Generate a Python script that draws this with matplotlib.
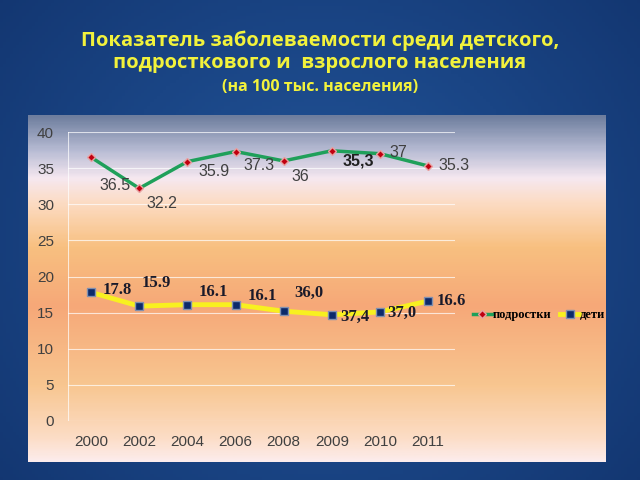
import numpy as np
import matplotlib.pyplot as plt
from matplotlib.colors import LinearSegmentedColormap

years = ["2000", "2002", "2004", "2006", "2008", "2009", "2010", "2011"]
teens = [36.5, 32.2, 35.9, 37.3, 36.0, 37.4, 37.0, 35.3]
kids = [17.8, 15.9, 16.1, 16.1, 15.2, 14.7, 15.1, 16.6]
teen_labels = ["36.5", "32.2", "35.9", "37.3", "36", "35,3", "37", "35.3"]
kid_labels = ["17.8", "15.9", "16.1", "16.1", "36,0", "37,4", "37,0", "16.6"]
yticks = [0, 5, 10, 15, 20, 25, 30, 35, 40]

fig = plt.figure(figsize=(6.4, 4.8), dpi=100)

# slide background
bg = fig.add_axes([0, 0, 1, 1])
bg.axis("off")
xx, yy = np.meshgrid(np.linspace(-1, 1, 200), np.linspace(-1, 1, 150))
r = np.sqrt(xx ** 2 + (yy * 0.8) ** 2)
slide_cmap = LinearSegmentedColormap.from_list("slide", ["#23569a", "#1a4585", "#12346e"])
bg.imshow(r, cmap=slide_cmap, aspect="auto", extent=[0, 1, 0, 1], vmin=0, vmax=1.4)
bg.set_xlim(0, 1)
bg.set_ylim(0, 1)

# panel gradient
panel = fig.add_axes([28 / 640, 18 / 480, 578 / 640, 347 / 480])
panel.axis("off")
stops = [(0.0, "#6e7e9e"), (0.10, "#b8bcd4"), (0.18, "#f6e8f0"), (0.25, "#fcdcc4"),
         (0.38, "#f8c080"), (0.55, "#f6a878"), (0.78, "#f8c690"), (0.93, "#fcdcc4"),
         (1.0, "#fcecec")]
panel_cmap = LinearSegmentedColormap.from_list("panel", stops)
panel.imshow(np.linspace(0, 1, 300).reshape(-1, 1), cmap=panel_cmap, aspect="auto",
             extent=[0, 1, 0, 1])

fig.text(0.5, 0.915, "Показатель заболеваемости среди детского,", ha="center",
         va="center", color="#f2f23c", fontsize=14.5, fontweight="bold", family="Open Sans")
fig.text(0.5, 0.868, "подросткового и  взрослого населения", ha="center",
         va="center", color="#f2f23c", fontsize=14.5, fontweight="bold", family="Open Sans")
fig.text(0.5, 0.818, "(на 100 тыс. населения)", ha="center", va="center",
         color="#f2f23c", fontsize=11.5, fontweight="bold", family="Open Sans")

ax = fig.add_axes([68 / 640, 59 / 480, 387 / 640, 289 / 480])
ax.patch.set_alpha(0)
x = np.arange(len(years))

ax.plot(x, teens, color="#1fa05a", lw=2.5, marker="D", ms=4,
        mfc="#c00010", mec="#e8a0a0", label="подростки", zorder=3)
ax.plot(x, kids, color="#f8f020", lw=3.5, marker="s", ms=5.5,
        mfc="#0c2a6a", mec="#8090b0", label="дети", zorder=3)

teen_off = [(17, -20), (16, -11), (19, -7), (17, -10), (12, -11), (19, -7), (13, 1), (19, 0)]
for i, (v, lab) in enumerate(zip(teens, teen_labels)):
    dx, dy = teen_off[i]
    bold = lab == "35,3"
    ax.annotate(lab, (x[i], v), xytext=(dx, dy), textcoords="offset points",
                ha="center", va="center", fontsize=11.5,
                color="#202020" if bold else "#404040",
                fontweight="bold" if bold else "normal", family="Liberation Sans")

kid_off = [(8, 2), (2, 17), (8, 9), (9, 6), (8, 13), (6, -1.5), (5, -1), (6, 0)]
for i, (v, lab) in enumerate(zip(kids, kid_labels)):
    dx, dy = kid_off[i]
    ax.annotate(lab, (x[i], v), xytext=(dx, dy), textcoords="offset points",
                ha="left", va="center", fontsize=12, color="#1a1a2a",
                fontweight="bold", family="Liberation Serif")

ax.set_xlim(-0.48, 7.56)
ax.set_ylim(0, 40)
ax.set_yticks(yticks)
ax.set_xticks(x)
ax.set_xticklabels(years)
ax.tick_params(length=0, labelsize=11, colors="#404040", pad=10)
for lab in ax.get_xticklabels() + ax.get_yticklabels():
    lab.set_family("Liberation Sans")
ax.grid(axis="y", color="white", lw=0.8, alpha=0.7)
for s in ax.spines.values():
    s.set_visible(False)
ax.axvline(-0.48, color="white", lw=0.8, alpha=0.7)

ax.legend(loc="center left", bbox_to_anchor=(1.03, 0.367), frameon=False, ncol=2,
          prop={"family": "Liberation Serif", "weight": "bold", "size": 9},
          handlelength=1.5, columnspacing=0.7, handletextpad=0.1, borderpad=0)

fig.savefig("out.png", dpi=100)
